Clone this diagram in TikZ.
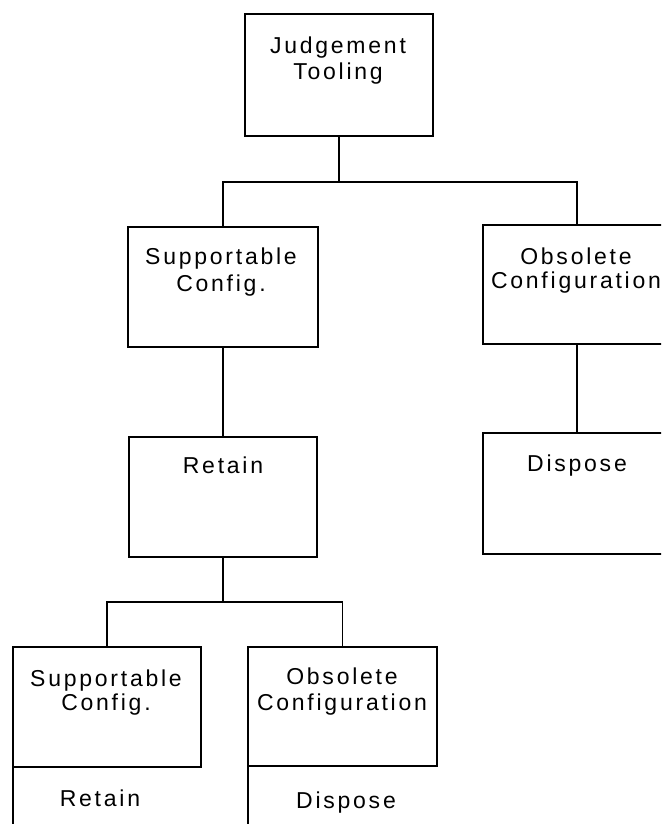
\documentclass[tikz,border=0pt]{standalone}
\usepackage{fontspec}
\setmainfont[LetterSpace=12]{Liberation Sans}
\begin{document}
\begin{tikzpicture}[x=1pt,y=-1pt,
  box/.style={draw, line width=1.6pt, inner sep=0pt, outer sep=0pt, anchor=north west},
  txt/.style={inner sep=0pt, anchor=base, font=\fontsize{23}{27}\selectfont},
  wire/.style={line width=1.5pt}]
\useasboundingbox (0,0) rectangle (661,824);
\clip (0,0) rectangle (661,824);
% boxes
\node[box, minimum width=188, minimum height=122] (top) at (245,14) {};
\node[box, minimum width=190, minimum height=120] (sc1) at (128,227) {};
\node[box, minimum width=188, minimum height=119] (ob1) at (483,225) {};
\node[box, minimum width=188, minimum height=120] (ret) at (129,437) {};
\node[box, minimum width=188, minimum height=121] (dis) at (483,433) {};
\node[box, minimum width=188, minimum height=120] (sc2) at (13,647) {};
\node[box, minimum width=189, minimum height=119] (ob2) at (248,647) {};
% texts
\node[txt] (t1) at (338,54) {Judgement};
\node[txt] (t2) at (338,80) {Tooling};
\node[txt] (t3) at (221,264) {Supportable};
\node[txt] (t4) at (221,291) {Config.};
\node[txt] (t5) at (576,264) {Obsolete};
\node[txt] (t6) at (576,288) {Configuration};
\node[txt] (t7) at (223,473) {Retain};
\node[txt] (t8) at (577,471) {Dispose};
\node[txt] (t9) at (106,686) {Supportable};
\node[txt] (t10) at (106,710) {Config.};
\node[txt] (t11) at (342,684) {Obsolete};
\node[txt] (t12) at (342,710) {Configuration};
\node[txt] (t13) at (100,806) {Retain};
\node[txt] (t14) at (346,808) {Dispose};
% connectors
\coordinate (j1) at (339,182);
\coordinate (j2) at (223,602);
\draw[wire] (top.south) -- (j1);
\draw[wire] (sc1.north) |- (j1) -| (ob1.north);
\draw[wire] (sc1.south) -- (ret.north);
\draw[wire] (ob1.south) -- (dis.north);
\draw[wire] (ret.south) -- (j2);
\draw[wire] (sc2.north) |- (j2) -| (ob2.north);
% partial lower boxes (left edges only)
\coordinate (e1) at (13,830);
\coordinate (e2) at (248,830);
\draw[wire] (sc2.south west) -- (e1);
\draw[wire] (ob2.south west) -- (e2);
\end{tikzpicture}
\end{document}
